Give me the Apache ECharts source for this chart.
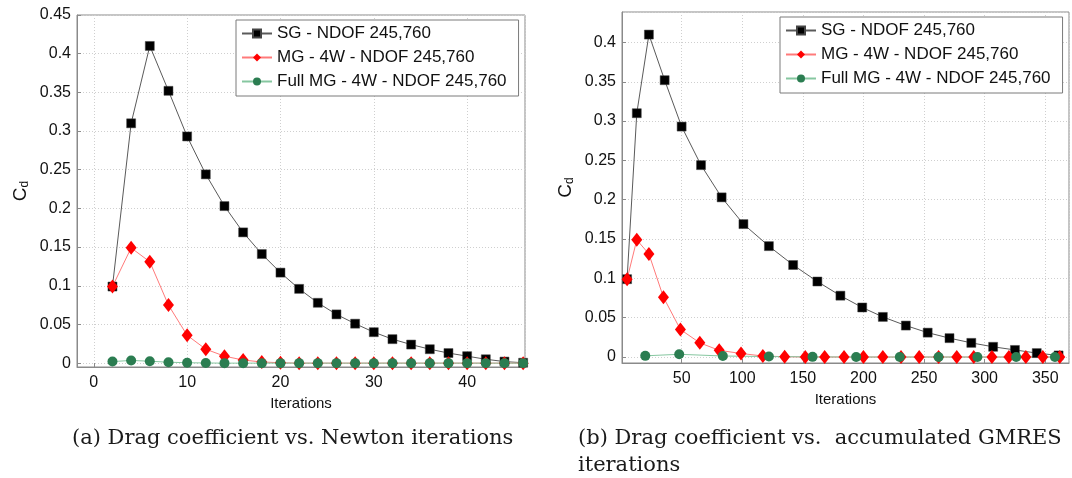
<!DOCTYPE html>
<html>
<head>
<meta charset="utf-8">
<script src="https://cdn.jsdelivr.net/npm/echarts@6/dist/echarts.min.js"></script>
<style>
  html, body { margin: 0; padding: 0; background: #fff; }
  #chart { width: 1072px; height: 478px; }
</style>
</head>
<body>
<div id="chart"></div>
<script>
'use strict';
// (a) Newton iterations
var newtonIters = [2, 4, 6, 8, 10, 12, 14, 16, 18, 20, 22, 24, 26, 28, 30, 32, 34, 36, 38, 40, 42, 44, 46];
var sgCd = [0.099, 0.31, 0.41, 0.352, 0.293, 0.244, 0.203, 0.169, 0.141, 0.117, 0.096, 0.078, 0.063, 0.051, 0.040, 0.031, 0.024, 0.018, 0.013, 0.009, 0.005, 0.002, 0.0005];
var mgCd = [0.099, 0.149, 0.131, 0.075, 0.036, 0.018, 0.009, 0.004, 0.0015, 0.0005, 0, 0, 0, 0, 0, 0, 0, 0, 0, 0, 0, 0, 0];
var fullMgCd = [0.002, 0.0035, 0.0025, 0.0012, 0.0005, 0.0002, 0, 0, 0, 0, 0, 0, 0, 0, 0, 0, 0, 0, 0, 0, 0, 0, 0];

// (b) accumulated GMRES iterations
var sgGmres = [5, 13, 23, 36, 50, 66, 83, 101, 122, 142, 162, 181, 199, 216, 235, 253, 271, 289, 307, 325, 343, 361];
var sgCdGmres = [0.099, 0.31, 0.41, 0.352, 0.293, 0.244, 0.203, 0.169, 0.141, 0.117, 0.096, 0.078, 0.063, 0.051, 0.040, 0.031, 0.024, 0.018, 0.013, 0.009, 0.005, 0.002];
var mgGmres = [5, 13, 23, 35, 49, 65, 81, 99, 117, 135, 152, 168, 184, 200, 216, 231, 246, 262, 277, 291, 306, 320, 334, 348, 362];
var mgCdGmres = [0.099, 0.149, 0.131, 0.076, 0.035, 0.018, 0.0085, 0.0045, 0.0013, 0.0004, 0, 0, 0, 0, 0, 0, 0, 0, 0, 0, 0, 0, 0, 0, 0];
var fullMgGmres = [20, 48, 84, 122, 158, 194, 230, 262, 294, 326, 358];
var fullMgCdGmres = [0.0015, 0.0035, 0.0013, 0.0006, 0.0002, 0, 0, 0, 0, 0, 0];

var seriesNames = ['SG - NDOF 245,760', 'MG - 4W - NDOF 245,760', 'Full MG - 4W - NDOF 245,760'];
var captionA = '(a) Drag coefficient vs. Newton iterations';
var captionB1 = '(b) Drag coefficient vs.  accumulated GMRES';
var captionB2 = 'iterations';

function pairs(xs, ys) {
    return xs.map(function (x, i) { return [x, ys[i]]; });
}

var axisColor = '#8a8a8a';
var textColor = '#111';
var font = 'Liberation Sans, Arial, sans-serif';

function xAxisOpt(gridIndex, min, max, splitNumber) {
    return {
        type: 'value', gridIndex: gridIndex, min: min, max: max, splitNumber: splitNumber,
        name: 'Iterations', nameLocation: 'middle', nameGap: 28,
        nameTextStyle: { color: textColor, fontSize: 15, fontFamily: font },
        axisLine: { show: true, onZero: false, lineStyle: { color: axisColor } },
        axisTick: { show: true, inside: true, length: 4, lineStyle: { color: axisColor } },
        axisLabel: { color: textColor, fontSize: 16, fontFamily: font, margin: 8, showMinLabel: false, showMaxLabel: false },
        splitLine: { show: true, lineStyle: { color: '#cfcfcf', type: [1, 2] } }
    };
}

function yAxisOpt(gridIndex, min, max, nameGap, hideMax) {
    return {
        type: 'value', gridIndex: gridIndex, min: min, max: max, splitNumber: 9,
        name: '{c|C}{d|d}', nameLocation: 'middle', nameGap: nameGap, nameRotate: 90,
        nameTextStyle: {
            color: textColor, fontFamily: font,
            rich: {
                c: { fontSize: 19, fontFamily: font, color: textColor },
                d: { fontSize: 12, fontFamily: font, color: textColor, padding: [9, 0, 0, 0] }
            }
        },
        axisLine: { show: true, onZero: false, lineStyle: { color: axisColor } },
        axisTick: { show: true, inside: true, length: 4, lineStyle: { color: axisColor } },
        axisLabel: { color: textColor, fontSize: 16, fontFamily: font, margin: 6, showMinLabel: false, showMaxLabel: !hideMax },
        splitLine: { show: true, lineStyle: { color: '#cfcfcf', type: [1, 2] } }
    };
}

function legendOpt(left, top) {
    return {
        left: left, top: top, orient: 'vertical',
        data: seriesNames,
        backgroundColor: '#fff', borderColor: '#7a7a7a', borderWidth: 1, borderRadius: 0,
        padding: [5, 12, 6, 5], itemGap: 7, itemWidth: 30, itemHeight: 10,
        textStyle: { color: textColor, fontSize: 17, fontFamily: font },
        selectedMode: false
    };
}

function makeSeries(gi, sgX, sgY, mgX, mgY, fmX, fmY) {
    return [
        {
            name: seriesNames[0], type: 'line', xAxisIndex: gi, yAxisIndex: gi,
            data: pairs(sgX, sgY), symbol: 'rect', symbolSize: 9,
            lineStyle: { color: '#5a5a5a', width: 1 },
            itemStyle: { color: '#000', borderColor: '#444', borderWidth: 0.5 },
            animation: false
        },
        {
            name: seriesNames[1], type: 'line', xAxisIndex: gi, yAxisIndex: gi,
            data: pairs(mgX, mgY), symbol: 'diamond', symbolSize: [11, 14],
            lineStyle: { color: '#ff7a7a', width: 1 },
            itemStyle: { color: '#ff0000' },
            animation: false
        },
        {
            name: seriesNames[2], type: 'line', xAxisIndex: gi, yAxisIndex: gi,
            data: pairs(fmX, fmY), symbol: 'circle', symbolSize: 10,
            lineStyle: { color: '#86c7a0', width: 1 },
            itemStyle: { color: '#2b7d51' },
            animation: false
        }
    ];
}

function init() {
    var chart = echarts.init(document.getElementById('chart'), null, { renderer: 'canvas' });
    var captionStyle = { fontSize: 21, fontFamily: 'DejaVu Serif', fill: '#1a1a1a' };
    var option = {
        animation: false,
        backgroundColor: '#fff',
        grid: [
            { left: 77, top: 15, width: 448, height: 352, show: true, borderColor: axisColor, borderWidth: 1 },
            { left: 622, top: 12, width: 447, height: 351, show: true, borderColor: axisColor, borderWidth: 1 }
        ],
        xAxis: [
            xAxisOpt(0, -1.8, 46.2, 5),
            xAxisOpt(1, 0.8, 369.6, 7)
        ],
        yAxis: [
            yAxisOpt(0, -0.005, 0.45, 46, false),
            yAxisOpt(1, -0.0076, 0.4387, 46, true)
        ],
        legend: [
            legendOpt(236, 20),
            legendOpt(780, 17)
        ],
        graphic: [
            { type: 'text', left: 72, top: 428, style: Object.assign({ text: captionA }, captionStyle) },
            { type: 'text', left: 578, top: 428, style: Object.assign({ text: captionB1 }, captionStyle) },
            { type: 'text', left: 578, top: 455, style: Object.assign({ text: captionB2 }, captionStyle) }
        ],
        series: makeSeries(0, newtonIters, sgCd, newtonIters, mgCd, newtonIters, fullMgCd)
            .concat(makeSeries(1, sgGmres, sgCdGmres, mgGmres, mgCdGmres, fullMgGmres, fullMgCdGmres))
    };
    chart.setOption(option);
}

init();
</script>
</body>
</html>
